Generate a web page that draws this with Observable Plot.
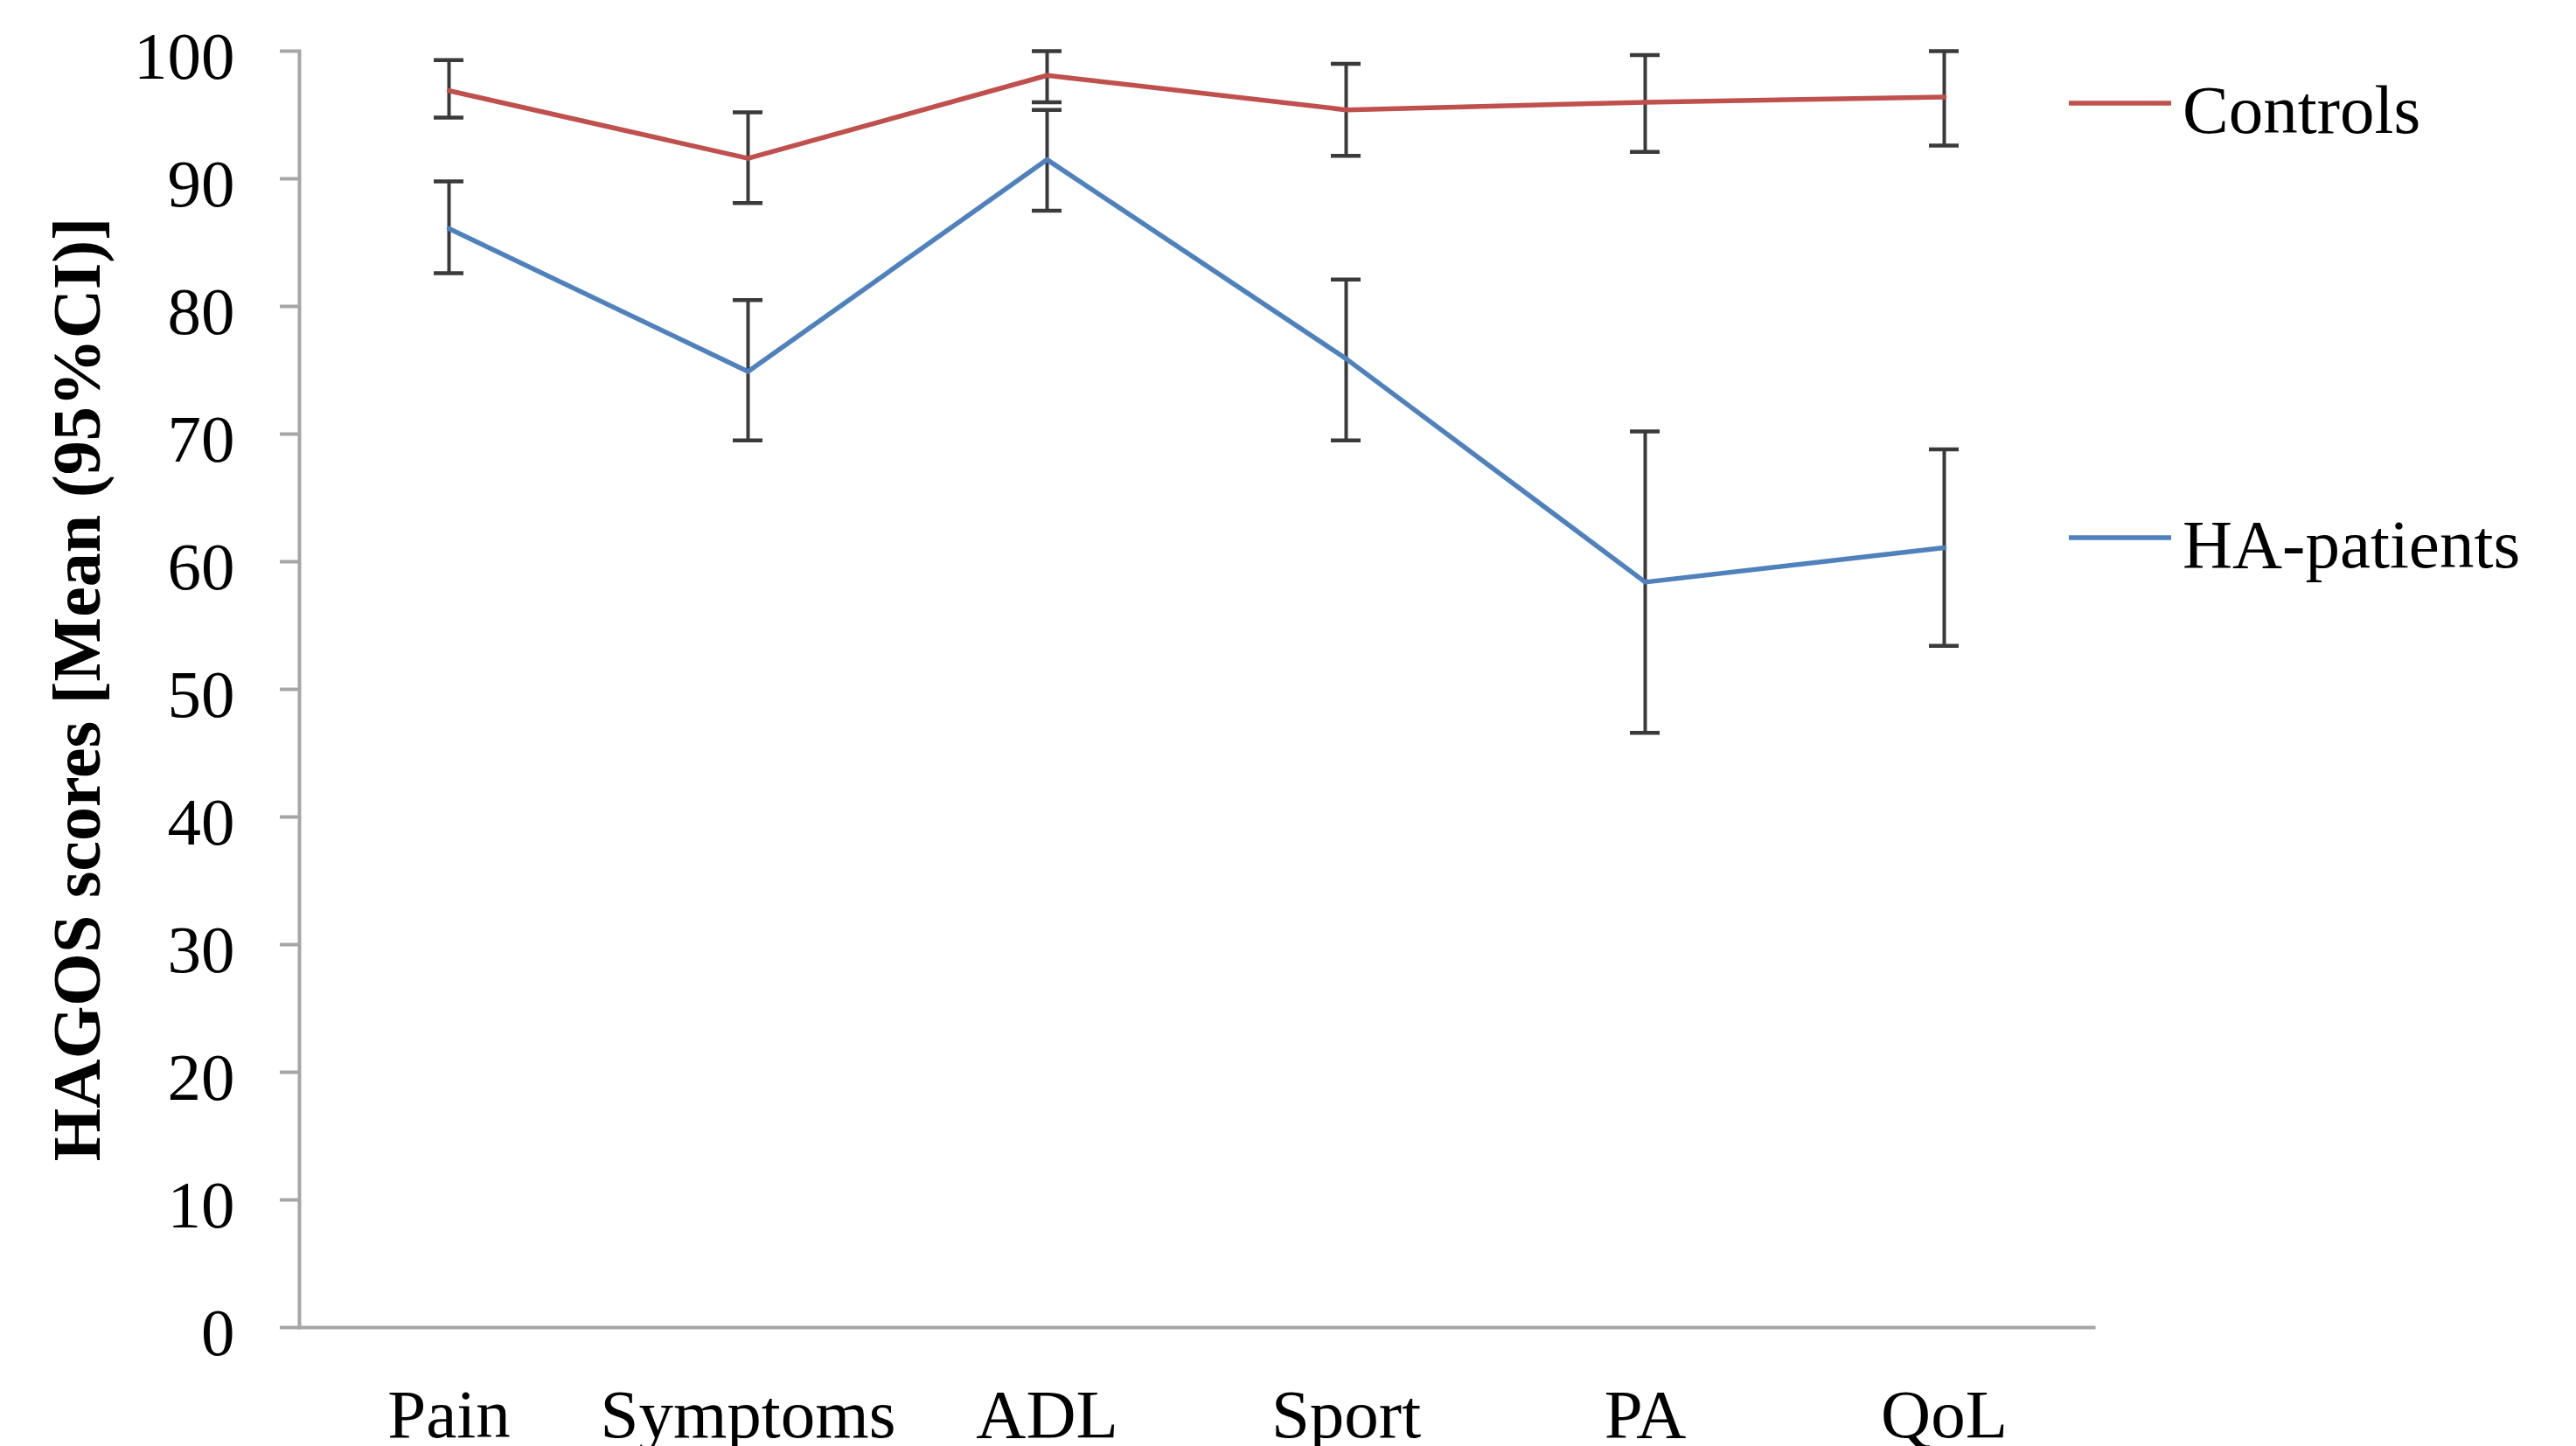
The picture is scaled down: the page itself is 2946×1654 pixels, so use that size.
<!DOCTYPE html>
<html>
<head>
<meta charset="utf-8">
<script src="https://cdn.jsdelivr.net/npm/d3@7"></script>
<script src="https://cdn.jsdelivr.net/npm/@observablehq/plot@0.6"></script>
<style>
html, body { margin: 0; padding: 0; background: #fff; }
#wrap { position: relative; width: 2946px; height: 1654px; overflow: hidden; background: #fff; }
#legend { position: absolute; left: 0; top: 0; }
</style>
</head>
<body>
<div id="wrap"></div>
<script>
// ---- data ----
const categories = ["Pain", "Symptoms", "ADL", "Sport", "PA", "QoL"];
const seriesNames = ["Controls", "HA-patients"];
const seriesColors = ["#C0504D", "#4F81BD"];

const controlsMean = [96.9, 91.6, 98.1, 95.4, 96.0, 96.4];
const controlsLow  = [94.8, 88.1, 96.0, 91.8, 92.1, 92.6];
const controlsHigh = [99.3, 95.2, 100.0, 99.0, 99.7, 100.0];

const haMean = [86.1, 74.9, 91.5, 75.9, 58.4, 61.1];
const haLow  = [82.6, 69.5, 87.5, 69.5, 46.6, 53.4];
const haHigh = [89.8, 80.5, 95.4, 82.1, 70.2, 68.8];

const yTicks = [0, 10, 20, 30, 40, 50, 60, 70, 80, 90, 100];
const yTitle = "HAGOS scores [Mean (95%CI)]";

// ---- table built from the arrays ----
const seriesData = [
  {name: seriesNames[0], mean: controlsMean, lo: controlsLow, hi: controlsHigh},
  {name: seriesNames[1], mean: haMean, lo: haLow, hi: haHigh}
];
const rows = [];
seriesData.forEach(s => {
  categories.forEach((c, i) => {
    rows.push({cat: c, series: s.name, mean: s.mean[i], lo: s.lo[i], hi: s.hi[i]});
  });
});

const font = "'Liberation Serif', 'Times New Roman', serif";
const axisGray = "#a6a6a6";
const errColor = "#3a3a3a";
const capInset = 154; // half of (band width - cap width)

const chart = Plot.plot({
  width: 2946,
  height: 1654,
  marginLeft: 342,
  marginRight: 552,
  marginTop: 58,
  marginBottom: 136,
  style: {fontFamily: font, fontSize: "77px", color: "#000", background: "#fff", overflow: "visible"},
  x: {type: "band", domain: categories, padding: 0},
  y: {domain: [0, 100]},
  color: {domain: seriesNames, range: seriesColors},
  marks: [
    Plot.frame({anchor: "left", stroke: axisGray, strokeWidth: 4}),
    Plot.frame({anchor: "bottom", stroke: axisGray, strokeWidth: 4}),
    Plot.axisY(yTicks, {tickSize: 22, stroke: axisGray, strokeWidth: 4, fill: "none", label: null}),
    Plot.axisY(yTicks, {tickSize: 0, tickPadding: 74, dy: 7, fill: "#000", fontSize: 77, label: null}),
    Plot.axisX({tickSize: 0, tickPadding: 69, fill: "#000", fontSize: 79, label: null}),
    Plot.text([yTitle], {frameAnchor: "left", textAnchor: "middle", rotate: -90, dx: -229, lineAnchor: "bottom", fontWeight: "bold", fontSize: 78, fill: "#000"}),
    Plot.ruleX(rows, {x: "cat", y1: "lo", y2: "hi", stroke: errColor, strokeWidth: 4}),
    Plot.tickY(rows, {x: "cat", y: "lo", insetLeft: capInset, insetRight: capInset, stroke: errColor, strokeWidth: 4.5}),
    Plot.tickY(rows, {x: "cat", y: "hi", insetLeft: capInset, insetRight: capInset, stroke: errColor, strokeWidth: 4.5}),
    Plot.line(rows, {x: "cat", y: "mean", z: "series", stroke: "series", strokeWidth: 5.5})
  ]
});

const wrap = document.getElementById("wrap");
wrap.appendChild(chart);

// ---- legend (outside the plot frame, right side) ----
const legendLayout = {x: 2366, lineLen: 117, gap: 13, rowY: [118, 615], baselineShift: 34, fontSize: 79};
const legend = d3.select(wrap).append("svg")
  .attr("id", "legend")
  .attr("width", 2946).attr("height", 1654)
  .style("pointer-events", "none");
seriesNames.forEach((name, i) => {
  const g = legend.append("g").attr("transform", `translate(${legendLayout.x},${legendLayout.rowY[i]})`);
  g.append("line").attr("x1", 0).attr("x2", legendLayout.lineLen).attr("y1", 0).attr("y2", 0)
    .attr("stroke", seriesColors[i]).attr("stroke-width", 5.5);
  g.append("text").attr("x", legendLayout.lineLen + legendLayout.gap).attr("y", legendLayout.baselineShift)
    .attr("font-family", font).attr("font-size", legendLayout.fontSize).attr("fill", "#000")
    .text(name);
});
</script>
</body>
</html>
